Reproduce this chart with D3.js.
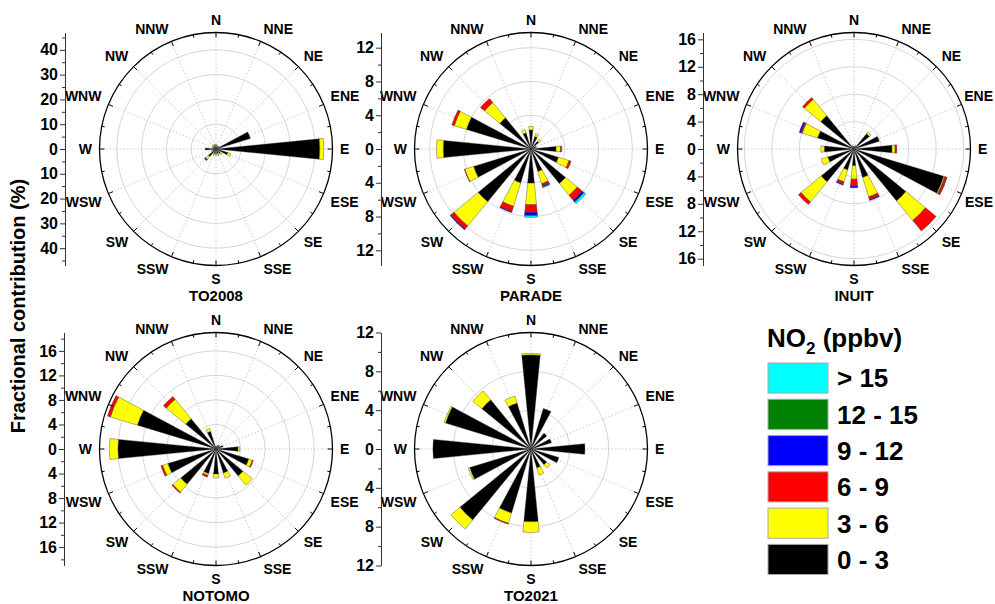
<!DOCTYPE html>
<html>
<head>
<meta charset="utf-8">
<script src="https://cdn.jsdelivr.net/npm/d3@7"></script>
<style>
  body { margin: 0; background: #fff; }
  svg text { font-family: Arial, "Liberation Sans", sans-serif; font-weight: bold; fill: #000; }
</style>
</head>
<body>
<svg id="chart" width="995" height="604"></svg>
<script>
// Wind direction sectors (clockwise from north)
const directions = ["N","NNE","NE","ENE","E","ESE","SE","SSE","S","SSW","SW","WSW","W","WNW","NW","NNW"];

// NO2 concentration bins (ppbv), innermost first
const bins = ["0 - 3","3 - 6","6 - 9","9 - 12","12 - 15","> 15"];
const binColors = ["#000000","#ffff00","#ff0000","#0000ff","#008000","#00ffff"];

// Fractional contribution (%) per direction, one value per NO2 bin
const to2008 = [
  [1.5,0.5,0,0,0,0],
  [1.0,0.3,0,0,0,0],
  [1.5,0,0,0,0,0],
  [14.5,0,0,0,0,0],
  [41.9,1.6,0,0,0,0],
  [5.0,1.3,0,0,0,0],
  [2.2,0.8,0,0,0,0],
  [2.0,0.8,0,0,0,0],
  [1.8,0.8,0,0,0,0],
  [2.0,0.6,0,0,0,0],
  [4.0,1.4,0.3,0.4,0,0],
  [1.5,0.5,0,0,0,0],
  [4.3,0,0,0,0,0],
  [1.2,0.3,0,0,0,0],
  [1.5,0.6,0,0,0,0],
  [1.5,0.6,0,0,0,0]
];
const parade = [
  [2.26,0.44,0,0,0,0],
  [1.55,0.35,0,0,0,0],
  [1.2,0.3,0,0,0,0],
  [0.6,0.1,0,0,0,0],
  [2.98,0.51,0.16,0,0,0],
  [3.4,1.3,0.26,0,0,0],
  [5.3,1.8,0.75,0.25,0.05,0.25],
  [2.8,1.5,0.25,0.12,0.03,0.1],
  [4.05,2.55,0.9,0.36,0.05,0.2],
  [4.2,2.9,0.64,0.12,0,0],
  [8.1,3.7,0.5,0.1,0,0],
  [7.1,1.1,0.05,0,0,0],
  [10.4,0.8,0,0,0,0],
  [8.0,1.5,0.3,0,0,0],
  [4.77,2.35,0.63,0,0,0],
  [2.0,0.4,0,0,0,0]
];
const inuit = [
  [0.4,0,0,0,0,0],
  [0.5,0,0,0,0,0],
  [2.9,0.3,0,0,0,0],
  [3.85,0,0,0,0,0],
  [5.56,0.44,0.25,0,0,0],
  [13.7,0.15,0.3,0,0.05,0],
  [9.8,3.7,2.0,0,0,0],
  [4.35,2.95,0.4,0.15,0,0],
  [2.44,1.96,0.97,0.3,0,0],
  [3.2,1.8,0.37,0.15,0,0],
  [6.2,3.8,0.5,0,0,0],
  [4.0,1.0,0,0,0,0],
  [4.35,0.5,0,0,0,0],
  [5.56,2.34,0.2,0.25,0,0],
  [6.28,3.1,0.35,0,0,0],
  [0.5,0,0,0,0,0]
];
const notomo = [
  [0.5,0,0,0,0,0],
  [0.6,0,0,0,0,0],
  [0.8,0,0,0,0,0],
  [1.2,0,0,0,0,0],
  [3.6,0.26,0,0,0,0],
  [5.6,0.6,0.17,0,0,0],
  [5.7,1.95,0,0,0,0],
  [4.1,0.9,0,0,0,0],
  [4.08,0.65,0,0,0,0],
  [4.2,0.3,0.3,0,0,0],
  [7.45,1.65,0.2,0,0,0],
  [8.2,0.9,0.3,0,0,0],
  [16.0,1.4,0,0,0,0],
  [13.4,4.6,0.5,0,0,0],
  [6.4,4.1,0.6,0,0,0],
  [3.0,0.5,0,0,0,0]
];
const to2021 = [
  [9.7,0.15,0,0,0,0],
  [4.37,0,0,0,0,0],
  [2.1,0,0,0,0,0],
  [2.2,0,0,0,0,0],
  [5.56,0,0,0,0,0],
  [3.0,0,0,0,0,0],
  [2.1,0.45,0,0,0,0],
  [2.05,0.75,0,0,0,0],
  [7.5,1.1,0,0,0,0],
  [6.9,1.1,0.1,0,0,0],
  [9.47,1.2,0,0,0,0],
  [6.6,0.15,0,0,0,0],
  [10.1,0,0,0,0,0],
  [9.2,0.15,0,0,0,0],
  [6.55,1.2,0,0,0,0],
  [4.94,0.76,0,0,0,0]
];

// Radial axis ranges and labelled ticks
const to2008Max = 47,   to2008Ticks = [10,20,30,40];
const paradeMax = 13.8, paradeTicks = [4,8,12];
const inuitMax  = 17,   inuitTicks  = [4,8,12,16];
const notomoMax = 19,   notomoTicks = [4,8,12,16];
const to2021Max = 12,   to2021Ticks = [4,8,12];

const stations = [
  { name: "TO2008", data: to2008, max: to2008Max, ticks: to2008Ticks },
  { name: "PARADE", data: parade, max: paradeMax, ticks: paradeTicks },
  { name: "INUIT",  data: inuit,  max: inuitMax,  ticks: inuitTicks },
  { name: "NOTOMO", data: notomo, max: notomoMax, ticks: notomoTicks },
  { name: "TO2021", data: to2021, max: to2021Max, ticks: to2021Ticks }
];

// Panel placement
const W = 995;
const R = 116.5;
const labelR = 124;
const layout = [
  { cx: 216, cy: 149, axisX: 65 },
  { cx: 531, cy: 149, axisX: 381 },
  { cx: 854, cy: 149, axisX: 703 },
  { cx: 216, cy: 449, axisX: 64 },
  { cx: 531, cy: 449, axisX: 381 }
];

const svg = d3.select("#chart");
const angle = d3.scalePoint().domain(directions).range([0, 2 * Math.PI * 15 / 16]);
const halfWidth = Math.PI / 32; // wedge spans half of its 22.5° sector

stations.forEach((st, i) => {
  const p = layout[i];
  const g = svg.append("g").attr("transform", `translate(${p.cx},${p.cy})`);
  const r = d3.scaleLinear().domain([0, st.max]).range([0, R]);

  // grid circles
  g.selectAll("circle.grid").data(st.ticks.filter(t => r(t) < R - 1)).join("circle")
    .attr("class", "grid").attr("r", d => r(d))
    .attr("fill", "none").attr("stroke", "#d6d6d6").attr("stroke-width", 1);

  // dotted spokes
  g.selectAll("line.spoke").data(directions).join("line")
    .attr("class", "spoke")
    .attr("x1", 0).attr("y1", 0)
    .attr("x2", d => R * Math.sin(angle(d)))
    .attr("y2", d => -R * Math.cos(angle(d)))
    .attr("stroke", "#bdbdbd").attr("stroke-width", 0.8).attr("stroke-dasharray", "1.5,2");

  // stacked wedges
  const stack = d3.stack().keys(d3.range(bins.length)).value((row, k) => row[k]);
  const series = stack(st.data);
  const arc = d3.arc();
  series.forEach((s, k) => {
    g.append("g").selectAll("path")
      .data(s.map((seg, j) => ({ seg, dir: directions[j] })).filter(d => d.seg[1] - d.seg[0] > 0))
      .join("path")
      .attr("d", d => arc({
        innerRadius: r(d.seg[0]),
        outerRadius: r(d.seg[1]),
        startAngle: angle(d.dir) - halfWidth,
        endAngle: angle(d.dir) + halfWidth
      }))
      .attr("fill", binColors[k])
      .attr("stroke", "#3a3a3a").attr("stroke-width", 0.4);
  });

  // outer ring
  g.append("circle").attr("r", R).attr("fill", "none").attr("stroke", "#000").attr("stroke-width", 1.3);

  // compass ticks on the ring
  const ringTicks = d3.range(32);
  g.selectAll("line.rt").data(ringTicks).join("line")
    .attr("class", "rt")
    .each(function (t) {
      const a = t * Math.PI / 16;
      const len = t % 2 === 0 ? 5 : 3;
      d3.select(this)
        .attr("x1", R * Math.sin(a)).attr("y1", -R * Math.cos(a))
        .attr("x2", (R - len) * Math.sin(a)).attr("y2", -(R - len) * Math.cos(a));
    })
    .attr("stroke", "#000").attr("stroke-width", 1);

  // direction labels: the label box corner nearest the centre sits on the spoke
  g.selectAll("text.dir").data(directions).join("text")
    .attr("class", "dir")
    .attr("font-size", 14)
    .attr("text-anchor", "middle")
    .attr("dy", "0.36em")
    .text(d => d)
    .each(function (d) {
      const w = this.getComputedTextLength();
      const a = angle(d);
      const sx = Math.sin(a), sy = -Math.cos(a);
      const sgn = v => (Math.abs(v) < 0.01 ? 0 : Math.sign(v));
      let x = labelR * sx + sgn(sx) * w / 2;
      const y = labelR * sy + sgn(sy) * 5.5;
      const maxX = W - 2 - p.cx - w / 2;
      if (x > maxX) x = maxX;
      d3.select(this).attr("x", x).attr("y", y);
    });

  // station name
  svg.append("text")
    .attr("x", p.cx).attr("y", p.cy + 152)
    .attr("text-anchor", "middle").attr("font-size", 15)
    .text(st.name);

  // vertical radial scale (mirrored about the centre)
  const yScale = d3.scaleLinear().domain([st.max, -st.max]).range([p.cy - R, p.cy + R]);
  const major = st.ticks.flatMap(t => [t, -t]).concat([0]);
  const step = st.ticks[1] - st.ticks[0];
  const minor = d3.range(-Math.floor(st.max / (step / 2)), Math.floor(st.max / (step / 2)) + 1)
    .map(k => k * step / 2).filter(v => !major.some(m => Math.abs(m - v) < 1e-9));

  const axG = svg.append("g").attr("transform", `translate(${p.axisX},0)`);
  axG.call(d3.axisLeft(yScale).tickValues(minor).tickSize(3).tickSizeOuter(0).tickFormat(""));
  axG.call(g2 => g2.selectAll("line").attr("stroke", "#333"));
  const axMajor = svg.append("g").attr("transform", `translate(${p.axisX},0)`)
    .call(d3.axisLeft(yScale).tickValues(major).tickSize(5).tickSizeOuter(0).tickPadding(2)
      .tickFormat(v => d3.format("d")(Math.abs(v))));
  axMajor.selectAll("text").attr("font-size", 16).attr("font-family", null).attr("fill", "#000");
  axMajor.attr("font-family", null).attr("font-size", null);
  svg.selectAll(".domain").attr("stroke", "#333");
  axMajor.selectAll("line").attr("stroke", "#333");
});

// shared y-axis title
svg.append("text")
  .attr("transform", "translate(25,306) rotate(-90)")
  .attr("text-anchor", "middle")
  .attr("font-size", 20)
  .text("Fractional contribution (%)");

// legend
const legend = svg.append("g");
const legendTitle = legend.append("text").attr("x", 767).attr("y", 347).attr("font-size", 26);
legendTitle.append("tspan").text("NO");
legendTitle.append("tspan").attr("font-size", 17).attr("dy", 7).text("2");
legendTitle.append("tspan").attr("dy", -7).text(" (ppbv)");

const legendRows = bins.map((b, k) => ({ label: b, color: binColors[k] })).reverse();
const rowY = d3.scaleBand().domain(legendRows.map(d => d.label)).range([363, 574.5]).paddingInner(0.17);
legend.selectAll("rect").data(legendRows).join("rect")
  .attr("x", 768).attr("y", d => rowY(d.label))
  .attr("width", 60).attr("height", rowY.bandwidth())
  .attr("fill", d => d.color).attr("stroke", "#a8a8a8").attr("stroke-width", 1);
legend.selectAll("text.lab").data(legendRows).join("text")
  .attr("class", "lab")
  .attr("x", 837).attr("y", d => rowY(d.label) + rowY.bandwidth() / 2)
  .attr("dy", "0.36em").attr("font-size", 26)
  .text(d => d.label);
</script>
</body>
</html>
